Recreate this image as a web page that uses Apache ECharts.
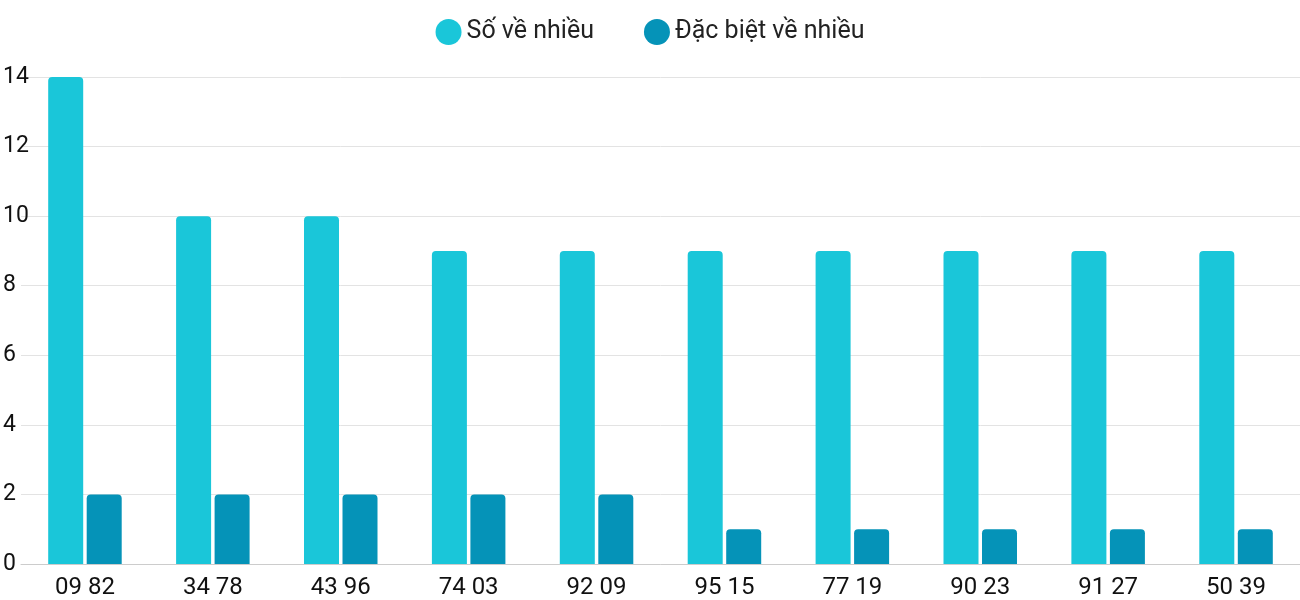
<!DOCTYPE html><html><head><meta charset="utf-8"><script src="https://cdn.jsdelivr.net/npm/echarts@6/dist/echarts.min.js"></script></head><body style="margin:0"><div id="c" style="width:1300px;height:600px"></div><script>
const categories=["09 82","34 78","43 96","74 03","92 09","95 15","77 19","90 23","91 27","50 39"];
const soVeNhieu=[14,10,10,9,9,9,9,9,9,9];
const dacBiet=[2,2,2,2,2,1,1,1,1,1];
const yTicks=[0,2,4,6,8,10,12,14];
const ch=echarts.init(document.getElementById('c'));
ch.setOption({
 animation:false,
 legend:{top:14,left:'center',itemWidth:26,itemHeight:26,itemGap:50,icon:'circle',textStyle:{fontSize:25,fontFamily:'Roboto',color:'#222'}},
 grid:{left:20,width:1310,top:77,bottom:34,containLabel:false},
 xAxis:{type:'category',data:categories,axisTick:{show:false},axisLine:{lineStyle:{color:'#ccc'}},axisLabel:{fontSize:24,fontFamily:'Roboto',color:'#111',margin:12}},
 yAxis:{type:'value',min:yTicks[0],max:yTicks[yTicks.length-1],interval:2,axisLabel:{align:'left',margin:18,fontSize:23,fontFamily:'Roboto',color:'#111'},splitLine:{lineStyle:{color:'#e3e3e3'}}},
 series:[
  {name:'Số về nhiều',type:'bar',data:soVeNhieu,barWidth:35,barGap:'10%',itemStyle:{color:'#1ac6d9',borderRadius:[4,4,0,0]}},
  {name:'Đặc biệt về nhiều',type:'bar',data:dacBiet,barWidth:35,itemStyle:{color:'#0593b8',borderRadius:[4,4,0,0]}}
 ]
});
</script></body></html>
